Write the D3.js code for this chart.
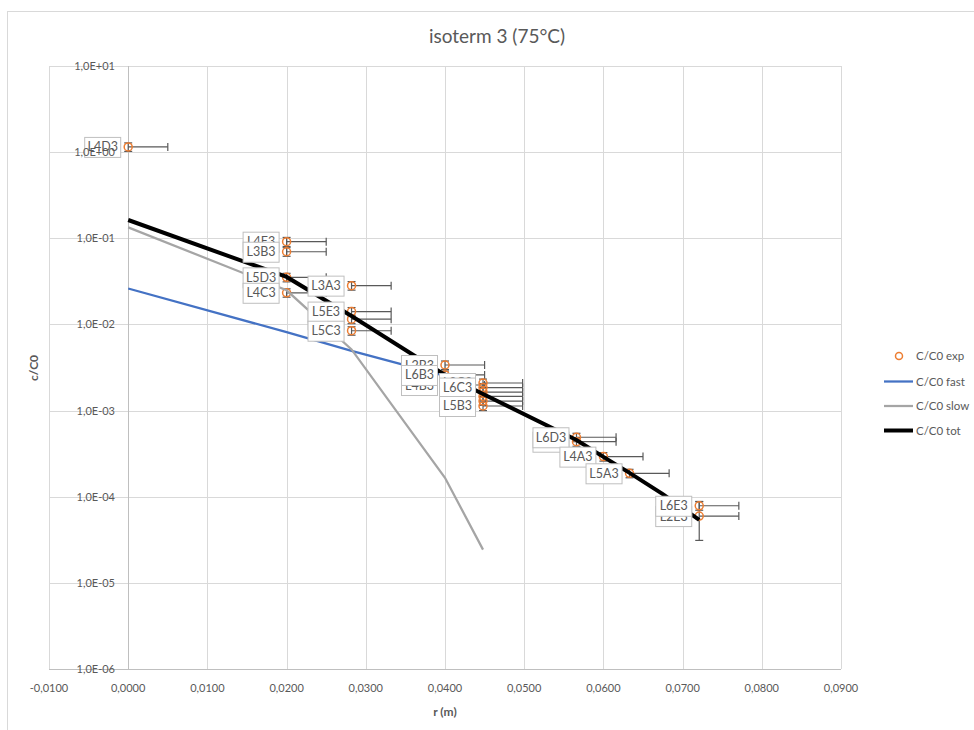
<!DOCTYPE html>
<html><head><meta charset="utf-8">
<script src="https://cdn.jsdelivr.net/npm/d3@7"></script>
<style>body{margin:0;background:#fff;} text{font-family:Lato,"Open Sans",sans-serif;}</style>
</head><body>
<svg id="chart" width="974" height="730"></svg>
<script>
// ---- data ----
const title = "isoterm 3 (75°C)";
const expNames = ["L4D3","L4E3","L3B3","L5D3","L4C3","L3A3","L3E3","L5E3","L5C3","L2B3","L4B3","L6B3","L2C3","L3C3","L2D3","L3D3","L6C3","L5B3","L6A3","L6D3","L4A3","L5A3","L2E3","L6E3"];
const expX = [0,0.02,0.02,0.02,0.02,0.0282,0.0282,0.0282,0.0282,0.04,0.04,0.04,0.0448,0.0448,0.0448,0.0448,0.0448,0.0448,0.0566,0.0566,0.06,0.0633,0.0721,0.0721];
const expY = [1.15,0.0913,0.0698,0.0352,0.0233,0.0282,0.0115,0.0141,0.00845,0.00338,0.00198,0.00259,0.00209,0.00164,0.00146,0.00129,0.00185,0.00113,0.000435,0.00049,0.000292,0.000187,0.0000596,0.0000785];
const expXErr = [0.005,0.005,0.005,0.005,0.005,0.005,0.005,0.005,0.005,0.005,0.005,0.005,0.005,0.005,0.005,0.005,0.005,0.005,0.005,0.005,0.005,0.005,0.005,0.005];
const expYErr = [0.13,0.011,0.008,0.004,0.0026,0.0032,0.0013,0.0016,0.00095,0.00038,0.00022,0.00029,0.00023,0.00018,0.00016,0.00014,0.00021,0.00013,0.00005,0.000055,0.000033,0.000021,0.0000285,0.0000088];

const fastX = [0,0.02,0.0282,0.04];
const fastY = [0.0261,0.00813,0.00494,0.00253];
const slowX = [0,0.02,0.0282,0.04,0.0448];
const slowY = [0.134,0.0249,0.00513,0.000166,0.0000243];
const totX = [0,0.02,0.0282,0.04,0.0448,0.0566,0.06,0.0633,0.0675,0.0721];
const totY = [0.163,0.0356,0.0125,0.00259,0.00156,0.000456,0.00029,0.000189,0.000107,0.0000537];

const xTicks = [-0.01,0,0.01,0.02,0.03,0.04,0.05,0.06,0.07,0.08,0.09];
const yTicks = [1e1,1e0,1e-1,1e-2,1e-3,1e-4,1e-5,1e-6];
const yTickLabels = ["1,0E+01","1,0E+00","1,0E-01","1,0E-02","1,0E-03","1,0E-04","1,0E-05","1,0E-06"];
const legendNames = ["C/C0 exp","C/C0 fast","C/C0 slow","C/C0 tot"];

// ---- layout ----
const svg = d3.select("#chart");
const L = 49, R = 841, T = 66, B = 669;
const x = d3.scaleLinear().domain([-0.01,0.09]).range([L,R]);
const y = d3.scaleLog().domain([1e-6,1e1]).range([B,T]);
const grey = "#595959";

svg.append("rect").attr("x",7.5).attr("y",11.5).attr("width",1000).attr("height",800)
  .attr("fill","#fff").attr("stroke","#d9d9d9");

svg.append("text").attr("x",497).attr("y",43).attr("text-anchor","middle")
  .attr("font-size",19).attr("fill",grey).text(title);

// grid
const g = svg.append("g");
g.selectAll(".vg").data(xTicks).join("line")
  .attr("x1",d=>Math.round(x(d))+0.5).attr("x2",d=>Math.round(x(d))+0.5)
  .attr("y1",T).attr("y2",B).attr("stroke","#d9d9d9");
g.selectAll(".hg").data(yTicks).join("line")
  .attr("y1",d=>Math.round(y(d))+0.5).attr("y2",d=>Math.round(y(d))+0.5)
  .attr("x1",L).attr("x2",R).attr("stroke","#d9d9d9");
// y axis at x=0
g.append("line").attr("x1",Math.round(x(0))+0.5).attr("x2",Math.round(x(0))+0.5)
  .attr("y1",T).attr("y2",B).attr("stroke","#bfbfbf");
g.append("line").attr("x1",L).attr("x2",R).attr("y1",B+0.5).attr("y2",B+0.5).attr("stroke","#bfbfbf");

// error bars
const idx = d3.range(expNames.length);
const eb = svg.append("g").attr("stroke","#595959").attr("stroke-width",1.2);
idx.forEach(i=>{
  const px = x(expX[i]), py = y(expY[i]);
  const px2 = x(expX[i]+expXErr[i]);
  eb.append("line").attr("x1",px).attr("x2",px2).attr("y1",py).attr("y2",py);
  eb.append("line").attr("x1",px2).attr("x2",px2).attr("y1",py-4).attr("y2",py+4);
  const yl = y(Math.max(expY[i]-expYErr[i],1e-7)), yh = y(expY[i]+expYErr[i]);
  eb.append("line").attr("x1",px).attr("x2",px).attr("y1",yh).attr("y2",yl);
  eb.append("line").attr("x1",px-4).attr("x2",px+4).attr("y1",yh).attr("y2",yh);
  eb.append("line").attr("x1",px-4).attr("x2",px+4).attr("y1",yl).attr("y2",yl);
});
// markers
svg.append("g").selectAll("circle").data(idx).join("circle")
  .attr("cx",i=>x(expX[i])).attr("cy",i=>y(expY[i])).attr("r",4)
  .attr("fill","none").attr("stroke","#ed7d31").attr("stroke-width",1.5);

// lines
const line = d3.line().x(d=>x(d[0])).y(d=>y(d[1]));
svg.append("path").attr("d",line(d3.zip(fastX,fastY))).attr("fill","none").attr("stroke","#4472c4").attr("stroke-width",2.25);
svg.append("path").attr("d",line(d3.zip(slowX,slowY))).attr("fill","none").attr("stroke","#a5a5a5").attr("stroke-width",2.25);
svg.append("path").attr("d",line(d3.zip(totX,totY))).attr("fill","none").attr("stroke","#000").attr("stroke-width",4);

// data labels
const lg = svg.append("g");
idx.forEach(i=>{
  const px = x(expX[i]), py = y(expY[i]);
  const w = 36, h = 20;
  const bx = px - 8 - w;
  lg.append("rect").attr("x",bx+0.5).attr("y",py-h/2+0.5).attr("width",w).attr("height",h)
    .attr("fill","#fff").attr("stroke","#bfbfbf").attr("stroke-width",1);
  lg.append("text").attr("x",bx+w/2+0.5).attr("y",py+4.5).attr("text-anchor","middle")
    .attr("font-size",12.5).attr("fill",grey).text(expNames[i]);
});

// tick labels
svg.append("g").selectAll("text").data(xTicks).join("text")
  .attr("x",d=>x(d)).attr("y",692).attr("text-anchor","middle")
  .attr("font-size",11).attr("fill",grey).text(d=>d3.format(".4f")(d).replace(".",",").replace("−","-"));
svg.append("g").selectAll("text").data(yTicks).join("text")
  .attr("x",115).attr("y",d=>y(d)+4).attr("text-anchor","end")
  .attr("font-size",11).attr("fill",grey).text((d,i)=>yTickLabels[i]);

// axis titles
svg.append("text").attr("x",445).attr("y",716).attr("text-anchor","middle")
  .attr("font-size",12).attr("font-weight","bold").attr("fill",grey).text("r (m)");
svg.append("text").attr("transform","translate(38,368) rotate(-90)").attr("text-anchor","middle")
  .attr("font-size",12).attr("font-weight","bold").attr("fill",grey).text("c/C0");

// legend
const leg = svg.append("g");
const legY = [356,381.5,406,430.5];
const legColors = ["#ed7d31","#4472c4","#a5a5a5","#000"];
const legW = [0,2.25,2.25,4];
legendNames.forEach((n,i)=>{
  if(i===0){
    leg.append("circle").attr("cx",899).attr("cy",legY[i]).attr("r",3.5).attr("fill","none")
      .attr("stroke",legColors[i]).attr("stroke-width",1.5);
  } else {
    leg.append("line").attr("x1",884).attr("x2",913).attr("y1",legY[i]).attr("y2",legY[i])
      .attr("stroke",legColors[i]).attr("stroke-width",legW[i]);
  }
  leg.append("text").attr("x",916).attr("y",legY[i]+4).attr("font-size",11.5).attr("fill",grey).text(n);
});
</script>
</body></html>
